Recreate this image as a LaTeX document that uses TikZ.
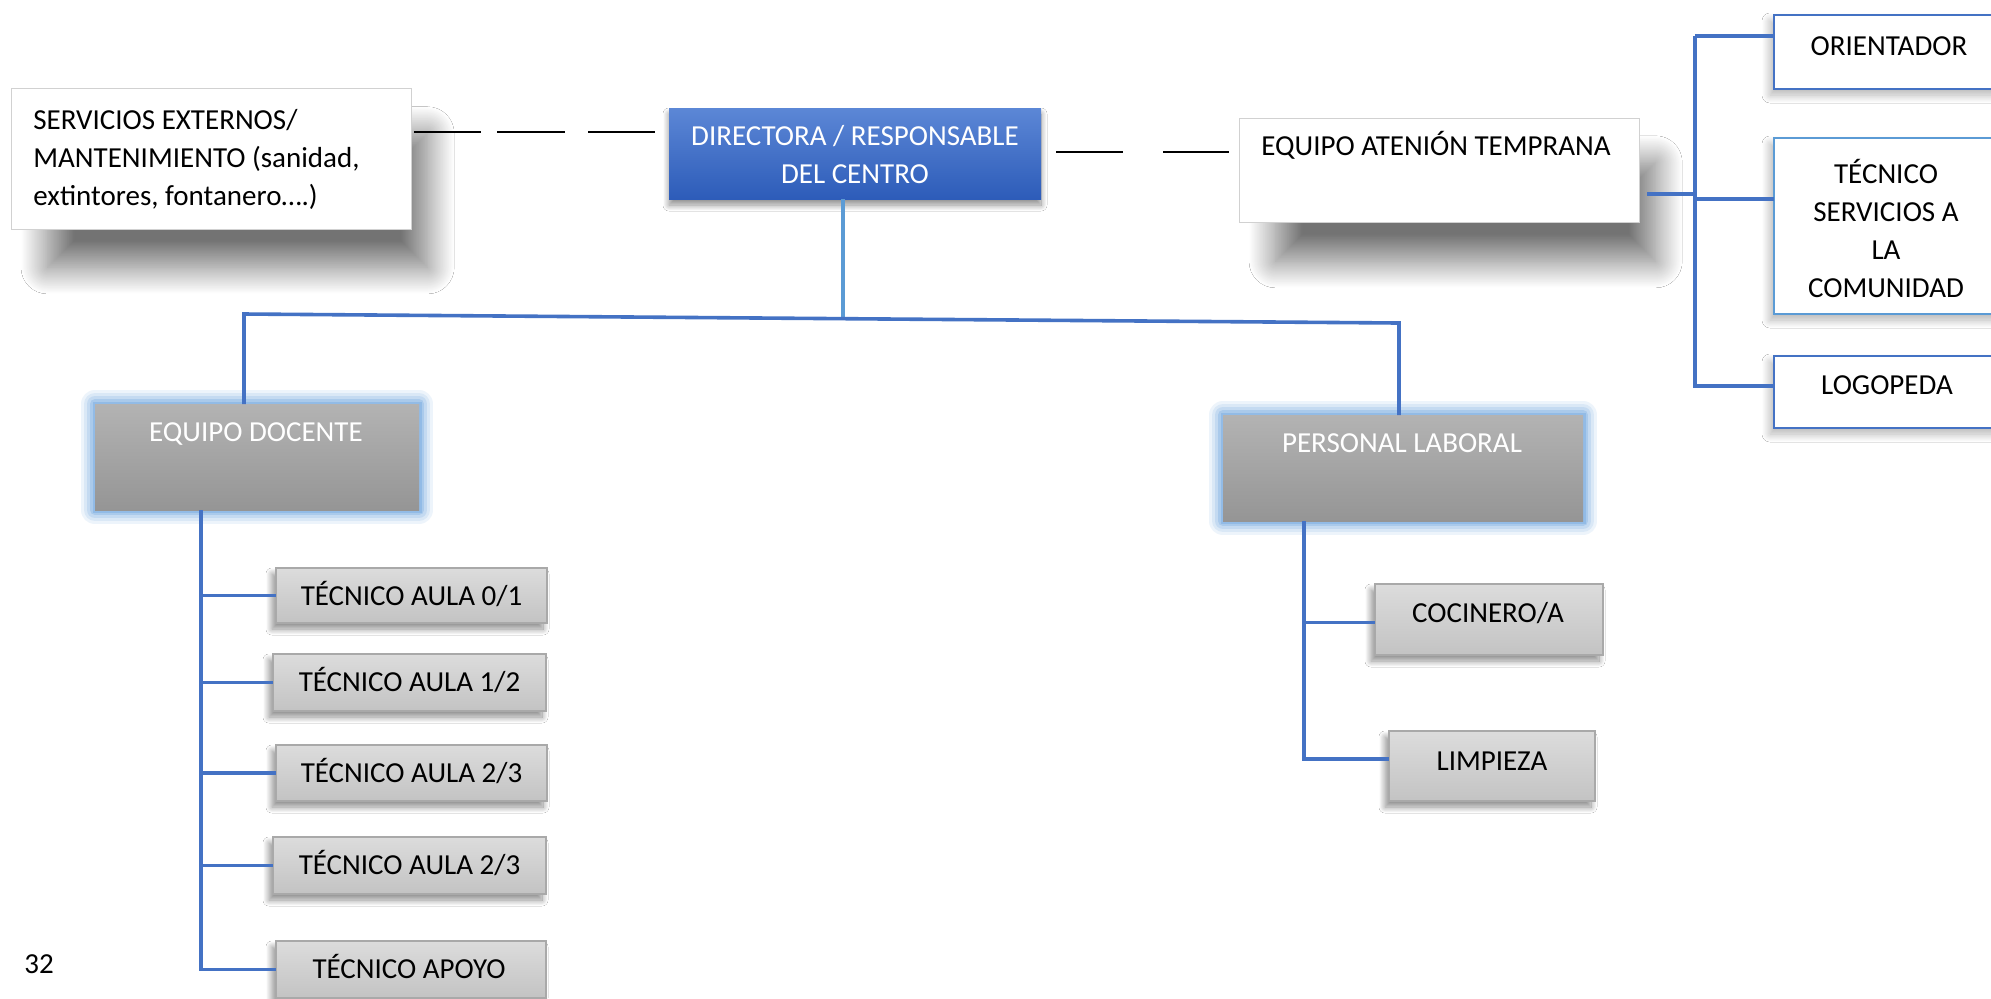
\documentclass[tikz,border=0pt]{standalone}
\usepackage{fontspec}
\setmainfont{Carlito}
\usetikzlibrary{shadows.blur,calc}
\definecolor{cblue}{HTML}{4472C4}
\definecolor{lblue}{HTML}{5B9BD5}
\definecolor{dtop}{HTML}{5C87D6}
\definecolor{dbot}{HTML}{2D5CB9}
\definecolor{gtop}{HTML}{B3B3B3}
\definecolor{gbot}{HTML}{959595}
\definecolor{stop}{HTML}{DCDCDC}
\definecolor{sbot}{HTML}{C3C3C3}
\definecolor{sborder}{HTML}{A9A9A9}
\definecolor{glow}{HTML}{6FA6E0}
\tikzset{
  boxbase/.style={rectangle, inner sep=0pt, outer sep=0pt},
  txt/.style={inner sep=0pt, font=\fontsize{14.5pt}{19pt}\selectfont, align=center},
  whitebox/.style={boxbase, fill=white, draw=black!18, line width=0.5pt,
    blur shadow={shadow xshift=14pt, shadow yshift=-22pt, shadow scale=0.95, shadow blur radius=14pt, shadow blur steps=40, shadow opacity=55}},
  dirbox/.style={boxbase, top color=dtop, bottom color=dbot, draw=none,
    blur shadow={shadow xshift=0pt, shadow yshift=-3pt, shadow blur radius=3pt, shadow blur steps=20, shadow opacity=45}},
  bluebox/.style={boxbase, fill=white, draw=cblue, line width=1.2pt,
    blur shadow={shadow xshift=-2pt, shadow yshift=-3pt, shadow blur radius=4pt, shadow blur steps=20, shadow opacity=30}},
  graybig/.style={boxbase, top color=gtop, bottom color=gbot, draw=none,
    preaction={draw=glow, line width=14pt, opacity=0.12, line join=round},
    preaction={draw=glow, line width=11pt, opacity=0.15, line join=round},
    preaction={draw=glow, line width=8pt, opacity=0.2, line join=round},
    preaction={draw=glow, line width=5pt, opacity=0.3, line join=round},
    preaction={draw=glow, line width=2.5pt, opacity=0.4}},
  graysmall/.style={boxbase, top color=stop, bottom color=sbot, draw=sborder, line width=0.6pt,
    blur shadow={shadow xshift=-2pt, shadow yshift=-3pt, shadow blur radius=3pt, shadow blur steps=20, shadow opacity=45}},
  conn/.style={draw=cblue, line width=1.8pt},
  lconn/.style={draw=lblue, line width=1.6pt},
  dashline/.style={draw=black, line width=1pt},
}
\begin{document}
\begin{tikzpicture}[x=0.5pt,y=-0.5pt]
\useasboundingbox (0,0) rectangle (1991,998);
\fill[white] (0,0) rectangle (1991,998);

% top row
\node[whitebox, minimum width=200pt, minimum height=70.5pt] (serv) at (211,158.5) {};
\node[txt, align=left, anchor=west] (servT) at (33,159) {SERVICIOS EXTERNOS/\\MANTENIMIENTO (sanidad,\\extintores, fontanero….)};

\node[dirbox, minimum width=186pt, minimum height=45.5pt] (dir) at (855,153.5) {};
\node[txt, text=white] (dirT) at (855,155) {DIRECTORA / RESPONSABLE\\DEL CENTRO};

\node[whitebox, minimum width=200pt, minimum height=52pt] (eat) at (1439,170) {};
\node[txt, anchor=base west] (eatT) at (1261,155) {EQUIPO ATENIÓN TEMPRANA};

% right column
\node[bluebox, minimum width=115pt, minimum height=37pt] (ori) at (1889,52) {};
\node[txt, anchor=base] (oriT) at (1889,55.5) {ORIENTADOR};
\node[bluebox, draw=lblue, minimum width=115pt, minimum height=88pt] (tsc) at (1889,226) {};
\node[txt, text depth=0pt] (tscT) at (1886,228) {TÉCNICO\\SERVICIOS A\\LA\\COMUNIDAD};
\node[bluebox, minimum width=115pt, minimum height=36pt] (logo) at (1889,392) {};
\node[txt, anchor=base] (logoT) at (1887,394.5) {LOGOPEDA};

% second level
\node[graybig, minimum width=162pt, minimum height=53pt] (doc) at (257,457) {};
\node[txt, text=white, anchor=base] (docT) at (256,441.5) {EQUIPO DOCENTE};
\node[graybig, minimum width=180pt, minimum height=53pt] (pers) at (1403,468) {};
\node[txt, text=white, anchor=base] (persT) at (1402,452.5) {PERSONAL LABORAL};

% tecnicos
\node[graysmall, minimum width=135.5pt, minimum height=27.5pt] (t01) at (411.5,595.5) {};
\node[txt, anchor=base] (t01T) at (411.5,605) {TÉCNICO AULA 0/1};
\node[graysmall, minimum width=136.5pt, minimum height=28.5pt] (t12) at (409.5,682.5) {};
\node[txt, anchor=base] (t12T) at (409.5,691.5) {TÉCNICO AULA 1/2};
\node[graysmall, minimum width=135.5pt, minimum height=28pt] (t23a) at (411.5,773) {};
\node[txt, anchor=base] (t23aT) at (411.5,782.5) {TÉCNICO AULA 2/3};
\node[graysmall, minimum width=136.5pt, minimum height=28.5pt] (t23b) at (409.5,865.5) {};
\node[txt, anchor=base] (t23bT) at (409.5,874) {TÉCNICO AULA 2/3};
\node[graysmall, minimum width=135pt, minimum height=28.5pt] (apo) at (411,969.5) {};
\node[txt, anchor=base] (apoT) at (409,978.5) {TÉCNICO APOYO};

% personal laboral children
\node[graysmall, minimum width=114pt, minimum height=35.5pt] (coc) at (1489,619.5) {};
\node[txt, anchor=base] (cocT) at (1488,622.5) {COCINERO/A};
\node[graysmall, minimum width=103pt, minimum height=35pt] (lim) at (1492,766) {};
\node[txt, anchor=base] (limT) at (1492,770.5) {LIMPIEZA};

% page number
\node[txt, anchor=base] (pg) at (39,973.5) {32};

% helper coordinates
\coordinate (dl) at (0,132);
\coordinate (j) at (843,317);
\coordinate (hl) at (244,314);
\coordinate (hr) at (1399,323);
\coordinate (sp) at (201,0);
\coordinate (pp) at (1304,0);
\coordinate (bk) at (1695,0);
\coordinate (limc) at ([yshift=3.5pt]lim.west);
\coordinate (cocc) at ([yshift=-1.5pt]coc.west);
\coordinate (eatc) at ([yshift=-12pt]eat.east);
\coordinate (eats) at ([xshift=4pt,yshift=-12pt]eat.east);
\coordinate (oric) at ([yshift=8pt]ori.west);
\coordinate (tscc) at ([yshift=13.5pt]tsc.west);
\coordinate (logc) at ([yshift=3pt]logo.west);
\coordinate (dire) at ([yshift=0.75pt]dir.east);

% connectors
\draw[dashline, dash pattern=on 33.5pt off 8pt on 34pt off 11.5pt, shorten <=1.5pt, shorten >=7pt]
  (serv.east |- dl) -- (dir.west |- dl);
\draw[dashline, dash pattern=on 33.5pt off 20pt, shorten <=7.5pt, shorten >=5pt]
  (dire) -- (eat.west |- dire);

\draw[lconn] (dir.south -| j) -- (j);
\draw[conn] (doc.north -| hl) -- (hl) -- (hr) -- (pers.north -| hr);

% equipo docente spine
\draw[conn] (doc.south -| sp) -- (sp |- apo.west) -- (apo.west);
\foreach \n in {t01,t12,t23a,t23b}{
  \draw[conn] (sp |- \n.west) -- (\n.west);
}

% personal laboral spine
\draw[conn] (pers.south -| pp) -- (pp |- limc) -- (limc);
\draw[conn] (pp |- cocc) -- (cocc);

% atencion temprana bracket
\draw[conn] (eats) -- (bk |- eatc);
\draw[conn] (bk |- oric) -- (bk |- logc);
\draw[conn] (bk |- oric) -- (oric);
\draw[conn] (bk |- tscc) -- (tscc);
\draw[conn] ([xshift=-1pt]bk |- logc) -- (logc);
\end{tikzpicture}
\end{document}
